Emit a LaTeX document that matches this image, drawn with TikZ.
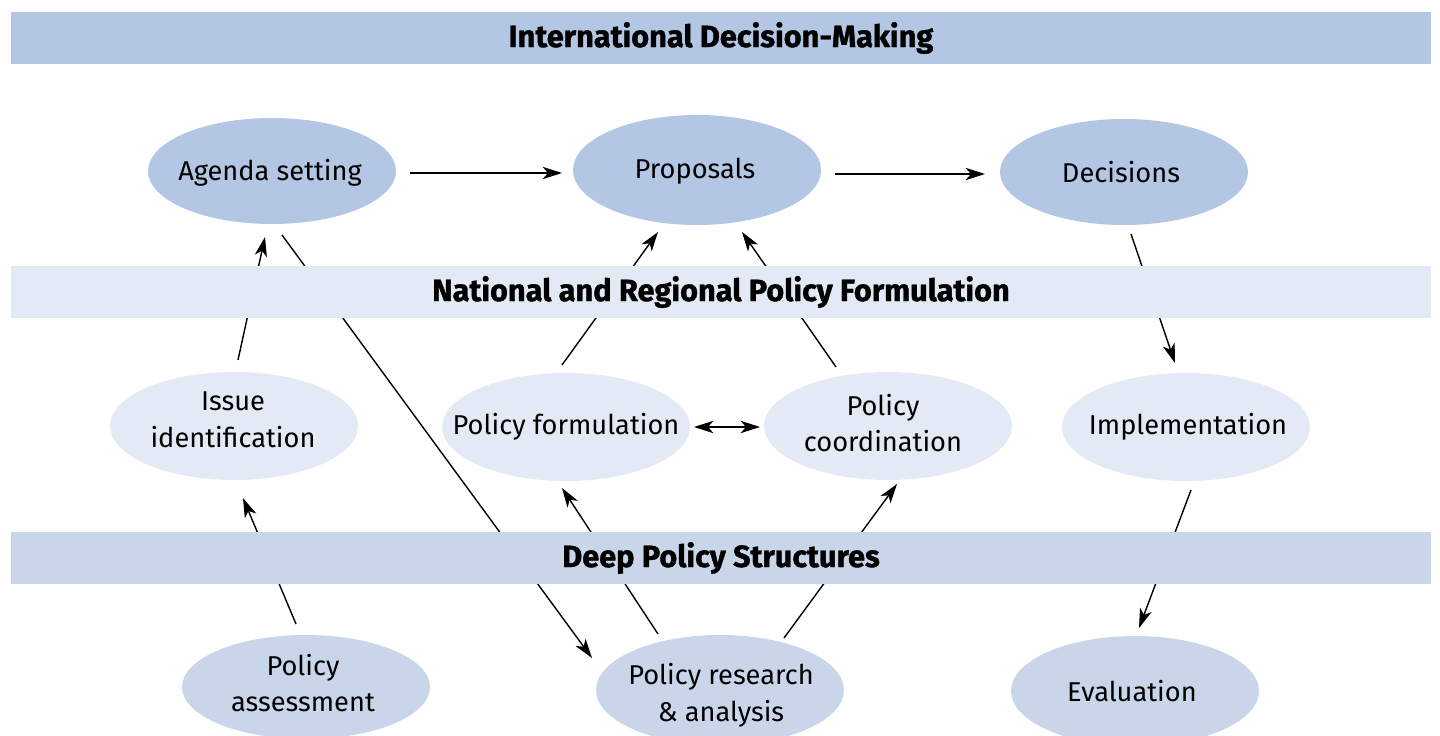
\documentclass[tikz,border=0pt]{standalone}
\usepackage{fontspec}
\setmainfont{Fira Sans}
\newfontfamily\titlefont[BoldFeatures={FakeBold=1.2}]{Fira Sans}
\usetikzlibrary{arrows.meta}
\definecolor{bandA}{HTML}{B3C6E4}
\definecolor{bandB}{HTML}{E3E9F5}
\definecolor{bandC}{HTML}{C9D6EA}
\newlength{\pxu}
\setlength{\pxu}{0.567pt}
\tikzset{
  lbl/.style={inner sep=0pt, align=center, font=\fontsize{15.5}{21}\selectfont},
  bandbox/.style={minimum width=1426\pxu, minimum height=52\pxu, inner sep=0pt, font=\titlefont\fontsize{17.5}{20}\bfseries\selectfont},
  conn/.style={line width=0.8pt, -{Stealth[length=11pt,width=7pt,inset=3pt]}},
}
\begin{document}
\begin{tikzpicture}[x=0.02cm,y=-0.02cm]
\useasboundingbox (0,0) rectangle (1440,736);
\clip (0,0) rectangle (1440,736);
% ellipse shapes
\fill[bandA] (272,171) ellipse [x radius=124, y radius=53];
\fill[bandA] (697,170) ellipse [x radius=124, y radius=55];
\fill[bandA] (1124,172) ellipse [x radius=124, y radius=53];
\fill[bandB] (234,426) ellipse [x radius=124, y radius=54];
\fill[bandB] (566,427) ellipse [x radius=124, y radius=54];
\fill[bandB] (888,426) ellipse [x radius=124, y radius=54];
\fill[bandB] (1186,427) ellipse [x radius=124, y radius=54];
\fill[bandC] (306,687) ellipse [x radius=124, y radius=52];
\fill[bandC] (720,690) ellipse [x radius=124, y radius=55];
\fill[bandC] (1135,691) ellipse [x radius=124, y radius=55];
% labels
\node[lbl] (agenda) at (270,173) {Agenda setting};
\node[lbl] (prop) at (695,171) {Proposals};
\node[lbl] (dec) at (1121,172) {Decisions};
\node[lbl] (issue) at (233,420) {Issue\\identification};
\node[lbl] (pform) at (566,427) {Policy formulation};
\node[lbl] (pcoord) at (883,423) {Policy\\coordination};
\node[lbl] (impl) at (1188,427) {Implementation};
\node[lbl] (assess) at (303,683) {Policy\\assessment};
\node[lbl] (research) at (721,695) {Policy research\\\& analysis};
\node[lbl] (eval) at (1132,691) {Evaluation};
% connector end points
\coordinate (a1) at (410,173); \coordinate (a2) at (562,173);
\coordinate (b1) at (835,174); \coordinate (b2) at (985,174);
\coordinate (c1) at (238,360); \coordinate (c2) at (265,237);
\coordinate (d1) at (282,235); \coordinate (d2) at (592,658);
\coordinate (e1) at (562,365); \coordinate (e2) at (658,232);
\coordinate (f1) at (836,367); \coordinate (f2) at (742,232);
\coordinate (g1) at (694,427); \coordinate (g2) at (760,427);
\coordinate (h1) at (1131,234); \coordinate (h2) at (1175,363);
\coordinate (i1) at (296,624); \coordinate (i2) at (243,498);
\coordinate (j1) at (658,634); \coordinate (j2) at (562,488);
\coordinate (k1) at (784,638); \coordinate (k2) at (897,484);
\coordinate (l1) at (1191,490); \coordinate (l2) at (1139,628);
\draw[conn] (a1) -- (a2);
\draw[conn] (b1) -- (b2);
\draw[conn] (c1) -- (c2);
\draw[conn] (d1) -- (d2);
\draw[conn] (e1) -- (e2);
\draw[conn] (f1) -- (f2);
\draw[conn, {Stealth[length=11pt,width=7pt,inset=3pt]}-{Stealth[length=11pt,width=7pt,inset=3pt]}] (g1) -- (g2);
\draw[conn] (h1) -- (h2);
\draw[conn] (i1) -- (i2);
\draw[conn] (j1) -- (j2);
\draw[conn] (k1) -- (k2);
\draw[conn] (l1) -- (l2);
% bands on top
\node[bandbox, fill=bandA] (top) at (721,38) {International Decision-Making};
\node[bandbox, fill=bandB] (mid) at (721,292) {National and Regional Policy Formulation};
\node[bandbox, fill=bandC] (bot) at (721,558) {Deep Policy Structures};
\end{tikzpicture}
\end{document}
